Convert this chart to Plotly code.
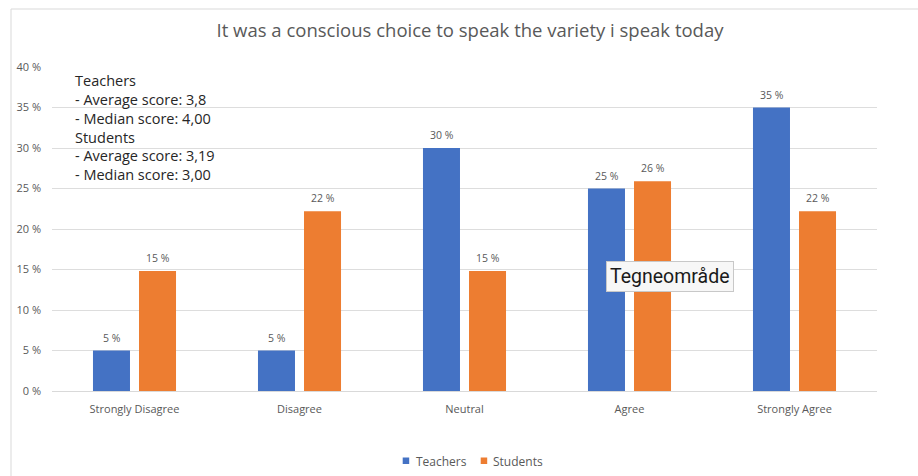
import plotly.graph_objects as go

# Survey answers, share of respondents in percent
categories = ["Strongly Disagree", "Disagree", "Neutral", "Agree", "Strongly Agree"]
teachers = [5.0, 5.0, 30.0, 25.0, 35.0]          # n = 20
students = [14.8, 22.2, 14.8, 25.9, 22.2]        # n = 27
y_ticks = [0, 5, 10, 15, 20, 25, 30, 35, 40]
y_tick_labels = [f"{t} %" for t in y_ticks]

summary_lines = [
    "Teachers",
    "- Average score: 3,8",
    "- Median score: 4,00",
    "Students",
    "- Average score: 3,19",
    "- Median score: 3,00",
]

BLUE = "#4472C4"
ORANGE = "#ED7D31"
GREY_TXT = "#595959"
FONT = "Open Sans"

W, H = 918, 476
M_L, M_R, M_T, M_B = 52, 41, 67, 85
PLOT_W = W - M_L - M_R
PLOT_H = H - M_T - M_B

series = [("Teachers", teachers, BLUE, -23), ("Students", students, ORANGE, 23)]

fig = go.Figure()
for name, vals, col, dx in series:
    fig.add_trace(go.Bar(
        name=name, x=categories, y=vals,
        marker=dict(color=col, line=dict(width=0)),
        showlegend=False,
    ))
    # value labels just above each bar
    for cat, v in zip(categories, vals):
        fig.add_annotation(
            x=cat, y=v, xref="x", yref="y", xshift=dx, yshift=13,
            text=f"{v:.0f} %", showarrow=False, yanchor="middle",
            font=dict(size=10.5, color=GREY_TXT, family=FONT),
        )


def px_x(px):
    return (px - M_L) / PLOT_W


def px_y(py):
    return (H - M_B - py) / PLOT_H


fig.update_layout(
    width=W, height=H,
    margin=dict(l=M_L, r=M_R, t=M_T, b=M_B, autoexpand=False),
    paper_bgcolor="white", plot_bgcolor="white",
    barmode="group", bargap=0.442, bargroupgap=0.196,
    font=dict(family=FONT, color=GREY_TXT),
    title=dict(
        text="It was a conscious choice to speak the variety i speak today",
        x=0.512, xanchor="center", y=1 - 31 / H, yanchor="middle",
        font=dict(size=18.5, color=GREY_TXT, family=FONT),
    ),
    xaxis=dict(
        showgrid=False, showline=True, linecolor="#D9D9D9", linewidth=1,
        ticks="", tickfont=dict(size=11, color=GREY_TXT), fixedrange=True,
        ticklabelstandoff=8,
    ),
    yaxis=dict(
        range=[0, 40], tickvals=y_ticks, ticktext=y_tick_labels,
        showgrid=True, gridcolor="#DDDDDD", gridwidth=1, zeroline=False,
        showline=False, ticks="", ticklabelstandoff=10,
        tickfont=dict(size=11, color=GREY_TXT),
    ),
    showlegend=False,
)

# Outer chart frame (extends past the right and bottom edges)
fig.add_shape(type="rect", xref="paper", yref="paper",
              x0=px_x(11), x1=1.2, y0=-0.5, y1=px_y(9),
              line=dict(color="#D9D9D9", width=1), fillcolor="rgba(0,0,0,0)",
              layer="below")

# Compact legend: small square key followed by the series name
legend_pos = [(402.7, 414), (480.7, 490.5)]
for (name, _, col, _), (kx, tx) in zip(series, legend_pos):
    fig.add_shape(type="rect", xref="paper", yref="paper",
                  x0=px_x(kx), x1=px_x(kx + 6.5), y0=px_y(464), y1=px_y(457.5),
                  line=dict(width=0), fillcolor=col)
    fig.add_annotation(
        xref="paper", yref="paper", x=px_x(tx), y=px_y(461),
        xanchor="left", yanchor="middle", text=name, showarrow=False,
        font=dict(size=12, color=GREY_TXT, family=FONT),
    )

# Summary statistics text box
fig.add_annotation(
    xref="paper", yref="paper", x=px_x(73), y=px_y(127),
    xanchor="left", yanchor="middle",
    text="<br>".join(summary_lines), showarrow=False, align="left",
    font=dict(size=14.5, color="#262626", family=FONT),
)

# Hover label left over from the chart editor
fig.add_annotation(
    xref="paper", yref="paper", x=px_x(670), y=px_y(276),
    xanchor="center", yanchor="middle",
    text="Tegneområde", showarrow=False,
    font=dict(size=19.5, color="#1a1a1a", family="Roboto"),
    bgcolor="#F7F7F7", bordercolor="#C8C8C8", borderwidth=1, borderpad=3,
)

fig.write_html("out.html")
